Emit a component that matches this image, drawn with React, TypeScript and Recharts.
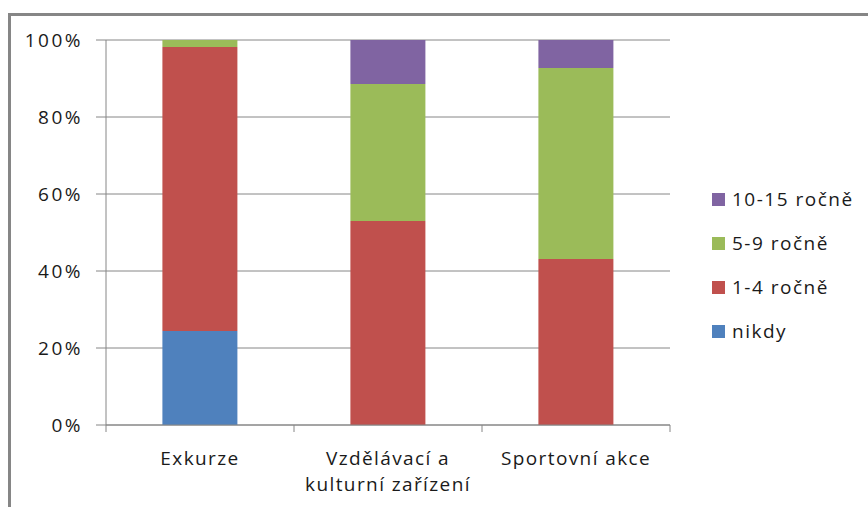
import { BarChart, Bar, XAxis, YAxis, CartesianGrid } from "recharts";

const categories = ["Exkurze", "Vzdělávací a kulturní zařízení", "Sportovní akce"];
const tickLabels = [["Exkurze"], ["Vzdělávací a", "kulturní zařízení"], ["Sportovní akce"]];

const nikdy = [24.4, 0, 0];
const rocne1to4 = [73.8, 53.0, 43.1];
const rocne5to9 = [1.8, 35.6, 49.6];
const rocne10to15 = [0, 11.4, 7.3];

const yTicks = [0, 0.2, 0.4, 0.6, 0.8, 1];

const series = [
  { key: "nikdy", name: "nikdy", color: "#4F81BD", values: nikdy },
  { key: "r14", name: "1-4 ročně", color: "#C0504D", values: rocne1to4 },
  { key: "r59", name: "5-9 ročně", color: "#9BBB59", values: rocne5to9 },
  { key: "r1015", name: "10-15 ročně", color: "#8064A2", values: rocne10to15 },
];

const data = categories.map((category, i) => {
  const row: Record<string, string | number> = { category };
  series.forEach((s) => {
    row[s.key] = s.values[i];
  });
  return row;
});

const W = 868;
const H = 507;
const PLOT_LEFT = 106;
const PLOT_RIGHT = 670;
const PLOT_TOP = 40;
const PLOT_BOTTOM = 425;
const BAND = (PLOT_RIGHT - PLOT_LEFT) / categories.length;
const GRAY = "#868686";
const TEXT = "#1a1a1a";

function CategoryTick(props: any) {
  const { x, y, index, payload } = props;
  const i = categories.indexOf(payload.value);
  const lines = tickLabels[i] || [payload.value];
  return (
    <g>
      <line x1={x - BAND / 2} x2={x - BAND / 2} y1={y} y2={y + 7} stroke={GRAY} />
      {index === categories.length - 1 && (
        <line x1={x + BAND / 2} x2={x + BAND / 2} y1={y} y2={y + 7} stroke={GRAY} />
      )}
      {lines.map((l, k) => (
        <text key={k} x={x} y={y + 40 + k * 26} textAnchor="middle" fill={TEXT} fontSize={19} letterSpacing={1.4}>
          {l}
        </text>
      ))}
    </g>
  );
}

export default function App() {
  return (
    <div
      style={{
        position: "absolute",
        left: 0,
        top: 0,
        width: W,
        height: H,
        background: "#fff",
        overflow: "hidden",
        fontFamily: "'Open Sans', sans-serif",
      }}
    >
      <div
        style={{
          position: "absolute",
          left: 8,
          top: 13,
          width: 920,
          height: 540,
          border: `3px solid ${GRAY}`,
        }}
      />
      <div style={{ position: "absolute", left: 0, top: 0 }}>
        <BarChart
          width={W}
          height={H}
          data={data}
          stackOffset="expand"
          barCategoryGap="30%"
          margin={{ top: PLOT_TOP, right: W - PLOT_RIGHT, bottom: 0, left: 0 }}
        >
          <CartesianGrid vertical={false} stroke={GRAY} />
          <XAxis
            dataKey="category"
            axisLine={{ stroke: GRAY }}
            tickLine={false}
            tickSize={0}
            tickMargin={0}
            interval={0}
            height={H - PLOT_BOTTOM}
            tick={<CategoryTick />}
          />
          <YAxis
            width={PLOT_LEFT}
            domain={[0, 1]}
            ticks={yTicks}
            tickFormatter={(v: number) => `${Math.round(v * 100)}%`}
            axisLine={{ stroke: GRAY }}
            tickLine={{ stroke: GRAY }}
            tickSize={10}
            tickMargin={13}
            tick={{ fill: TEXT, fontSize: 19, letterSpacing: 2.5 }}
          />
          {series.map((s) => (
            <Bar key={s.key} dataKey={s.key} name={s.name} stackId="a" fill={s.color} isAnimationActive={false} />
          ))}
        </BarChart>
      </div>
      <div style={{ position: "absolute", left: 712, top: 177 }}>
        {[...series].reverse().map((s) => (
          <div key={s.key} style={{ display: "flex", alignItems: "center", height: 44 }}>
            <div style={{ width: 13, height: 13, background: s.color, marginRight: 7 }} />
            <span style={{ fontSize: 19, color: TEXT, letterSpacing: 1.5, whiteSpace: "nowrap" }}>{s.name}</span>
          </div>
        ))}
      </div>
    </div>
  );
}
